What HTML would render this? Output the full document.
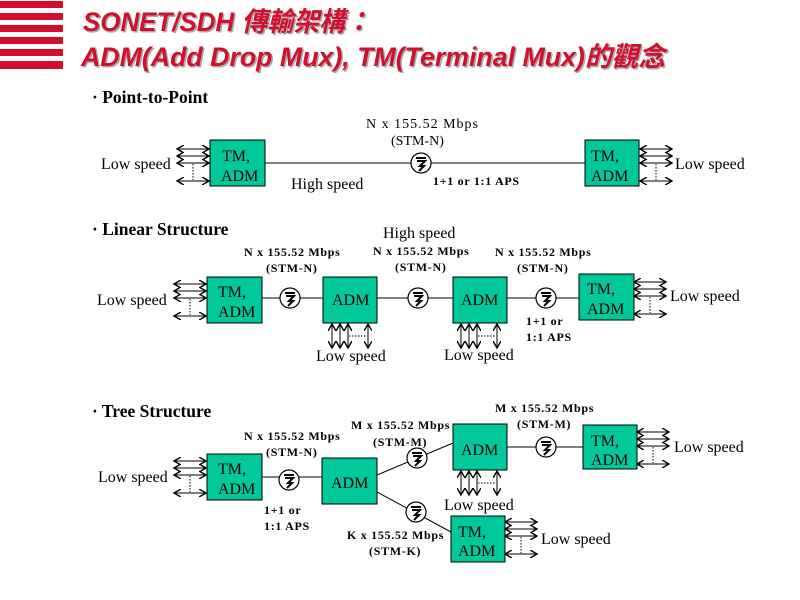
<!DOCTYPE html>
<html><head><meta charset="utf-8"><style>
html,body{margin:0;padding:0;background:#fff;}
svg{display:block;}
.t{font-family:"Liberation Serif","Noto Serif CJK SC",serif;font-size:16px;fill:#000;}
.s{font-family:"Liberation Serif",serif;font-size:12px;fill:#000;font-weight:bold;letter-spacing:0.7px;}
.h{font-family:"Liberation Serif",serif;font-size:17.5px;font-weight:bold;fill:#000;}
.b{font-family:"Liberation Serif",serif;font-size:16px;fill:#000;}
.ti{font-family:"Liberation Sans","Noto Sans CJK TC",sans-serif;font-size:27px;font-weight:bold;font-style:italic;fill:#d2102e;}
</style></head><body>
<svg width="800" height="600" viewBox="0 0 800 600" xmlns="http://www.w3.org/2000/svg">
<defs>
<marker id="a" markerWidth="8" markerHeight="8" refX="7" refY="4" orient="auto-start-reverse" markerUnits="userSpaceOnUse">
<path d="M0,0 L7,4 L0,8" fill="none" stroke="#000" stroke-width="1.4"/></marker>
<g id="hs">
<line x1="0" y1="0" x2="32" y2="0" stroke="#000" marker-start="url(#a)" marker-end="url(#a)"/>
<line x1="0" y1="7" x2="32" y2="7" stroke="#000" marker-start="url(#a)" marker-end="url(#a)"/>
<line x1="0" y1="14" x2="32" y2="14" stroke="#000" marker-start="url(#a)" marker-end="url(#a)"/>
<line x1="16" y1="15" x2="16" y2="31" stroke="#000" stroke-dasharray="1.5,1.5"/>
<line x1="0" y1="32" x2="32" y2="32" stroke="#000" marker-start="url(#a)" marker-end="url(#a)"/>
</g>
<g id="vs">
<line x1="0" y1="0" x2="0" y2="24" stroke="#000" marker-start="url(#a)" marker-end="url(#a)"/>
<line x1="8" y1="0" x2="8" y2="24" stroke="#000" marker-start="url(#a)" marker-end="url(#a)"/>
<line x1="16" y1="0" x2="16" y2="24" stroke="#000" marker-start="url(#a)" marker-end="url(#a)"/>
<line x1="17" y1="12" x2="35" y2="12" stroke="#000" stroke-dasharray="1.5,1.5"/>
<line x1="36" y1="0" x2="36" y2="24" stroke="#000" marker-start="url(#a)" marker-end="url(#a)"/>
</g>
<g id="ci">
<circle cx="0" cy="0" r="10" fill="#fff" stroke="#000" stroke-width="1.2"/>
<path d="M-5,-5 L5,-5 M-4,-2 L4,-2 L-1,3 L3,3 L-2,8" fill="none" stroke="#000" stroke-width="2"/>
</g>
</defs>
<g fill="#d2102e">
<rect x="0" y="1" width="63" height="7"/><rect x="0" y="13" width="63" height="7"/>
<rect x="0" y="25" width="63" height="7"/><rect x="0" y="37" width="63" height="7"/>
<rect x="0" y="49" width="63" height="7"/><rect x="0" y="61" width="63" height="8"/>
</g>
<text class="ti" x="84.5" y="32.5" textLength="288" lengthAdjust="spacingAndGlyphs" style="fill:#aaa">SONET/SDH 傳輸架構：</text>
<text class="ti" x="83" y="31" textLength="288" lengthAdjust="spacingAndGlyphs">SONET/SDH 傳輸架構：</text>
<text class="ti" x="82.5" y="67.5" textLength="584" lengthAdjust="spacingAndGlyphs" style="fill:#aaa">ADM(Add Drop Mux), TM(Terminal Mux)的觀念</text>
<text class="ti" x="81" y="66" textLength="584" lengthAdjust="spacingAndGlyphs">ADM(Add Drop Mux), TM(Terminal Mux)的觀念</text>

<g stroke="#000" stroke-width="1" fill="none">
<line x1="265" y1="163" x2="585" y2="163"/>
<line x1="262" y1="298" x2="579" y2="298"/>
<line x1="262" y1="477" x2="322" y2="477"/>
<line x1="507" y1="447" x2="583" y2="447"/>
<line x1="377" y1="475" x2="453" y2="443"/>
<line x1="377" y1="492" x2="451" y2="532"/>
</g>
<g fill="#00c89a" stroke="#000" stroke-width="1">
<rect x="210" y="140" width="55" height="46"/>
<rect x="585" y="140" width="54" height="46"/>
<rect x="207" y="277" width="55" height="46"/>
<rect x="323" y="277" width="54" height="46"/>
<rect x="453" y="277" width="54" height="46"/>
<rect x="579" y="274" width="55" height="46"/>
<rect x="207" y="454" width="55" height="46"/>
<rect x="322" y="458" width="55" height="46"/>
<rect x="453" y="424" width="54" height="46"/>
<rect x="583" y="425" width="54" height="44"/>
<rect x="451" y="516" width="54" height="46"/>
</g>
<use href="#ci" x="421" y="163"/>
<use href="#ci" x="290" y="298"/><use href="#ci" x="418" y="298"/><use href="#ci" x="546" y="298"/>
<use href="#ci" x="289" y="480"/><use href="#ci" x="417" y="458"/><use href="#ci" x="546" y="447"/><use href="#ci" x="416" y="512"/>

<use href="#hs" x="177" y="149"/><use href="#hs" x="640" y="149"/>
<use href="#hs" x="174" y="284"/><use href="#hs" x="634" y="282"/>
<use href="#hs" x="174" y="461"/><use href="#hs" x="637" y="432"/><use href="#hs" x="505" y="522"/>
<use href="#vs" x="332" y="324"/><use href="#vs" x="461" y="324"/><use href="#vs" x="461" y="471"/>

<g class="t">
<text x="222" y="161">TM,</text><text x="221" y="181">ADM</text>
<text x="591" y="161">TM,</text><text x="591" y="181">ADM</text>
<text x="218" y="297">TM,</text><text x="218" y="317">ADM</text>
<text x="332" y="305">ADM</text><text x="461" y="305">ADM</text>
<text x="587" y="294">TM,</text><text x="587" y="314">ADM</text>
<text x="218" y="474">TM,</text><text x="218" y="494">ADM</text>
<text x="331" y="488">ADM</text><text x="461" y="455">ADM</text>
<text x="591" y="446">TM,</text><text x="591" y="465">ADM</text>
<text x="458" y="537">TM,</text><text x="458" y="556">ADM</text>
</g>
<g class="b">
<text x="101" y="169">Low speed</text><text x="675" y="169">Low speed</text>
<text x="291" y="189">High speed</text>
<text x="97" y="305">Low speed</text><text x="670" y="301">Low speed</text>
<text x="316" y="361">Low speed</text><text x="444" y="360">Low speed</text>
<text x="383" y="238">High speed</text>
<text x="98" y="482">Low speed</text><text x="674" y="452">Low speed</text>
<text x="444" y="510">Low speed</text><text x="541" y="544">Low speed</text>
</g>
<g class="b" style="font-size:14px">
<text x="366" y="128" textLength="112" lengthAdjust="spacing">N x 155.52 Mbps</text><text x="391" y="145">(STM-N)</text>
</g>
<g class="s">
<text x="433" y="185">1+1 or 1:1 APS</text>
<text x="244" y="256">N x 155.52 Mbps</text><text x="266" y="272">(STM-N)</text>
<text x="373" y="255">N x 155.52 Mbps</text><text x="395" y="271">(STM-N)</text>
<text x="495" y="256">N x 155.52 Mbps</text><text x="517" y="272">(STM-N)</text>
<text x="526" y="325">1+1 or</text><text x="526" y="341">1:1 APS</text>
<text x="244" y="440">N x 155.52 Mbps</text><text x="266" y="456">(STM-N)</text>
<text x="351" y="429">M x 155.52 Mbps</text><text x="373" y="446">(STM-M)</text>
<text x="495" y="412">M x 155.52 Mbps</text><text x="517" y="428">(STM-M)</text>
<text x="264" y="514">1+1 or</text><text x="264" y="530">1:1 APS</text>
<text x="347" y="539">K x 155.52 Mbps</text><text x="369" y="555">(STM-K)</text>
</g>
<g class="h">
<text x="92" y="103">· Point-to-Point</text>
<text x="92" y="235">· Linear Structure</text>
<text x="92" y="417">· Tree Structure</text>
</g>
</svg>
</body></html>
